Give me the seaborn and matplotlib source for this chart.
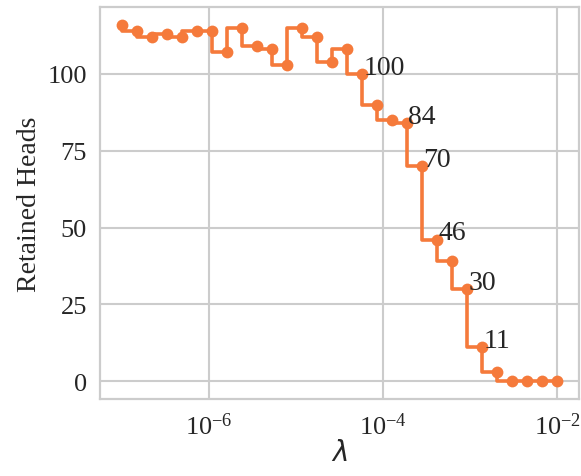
import numpy as np
import pandas as pd
import matplotlib
matplotlib.use("Agg")
import matplotlib.pyplot as plt
import matplotlib.ticker as mticker
import seaborn as sns

# Regularisation strengths swept on a log grid
lambdas = np.logspace(-7, -2, 30)
# Number of attention heads kept at each strength
retained = [116, 114, 112, 113, 112, 114, 114, 107, 115, 109,
            108, 103, 115, 112, 104, 108, 100, 90, 85, 84,
            70, 46, 39, 30, 11, 3, 0, 0, 0, 0]
# Points whose head count is written next to the marker
labelled_idx = [16, 19, 20, 21, 23, 24]

line_color = "#F57A3B"
text_color = "#262626"

sns.set_theme(style="whitegrid")
plt.rcParams["font.family"] = "serif"
plt.rcParams["font.serif"] = ["Liberation Serif", "DejaVu Serif"]
plt.rcParams["mathtext.fontset"] = "stix"
plt.rcParams["axes.edgecolor"] = "#cccccc"
plt.rcParams["axes.linewidth"] = 1.6
plt.rcParams["grid.color"] = "#cccccc"
plt.rcParams["grid.linewidth"] = 1.5

df = pd.DataFrame({"lam": lambdas, "heads": retained})

fig = plt.figure(figsize=(5.81, 4.77), dpi=100)
ax = fig.add_axes([100 / 581, 1 - 400 / 477, 479 / 581, 392 / 477])

sns.lineplot(data=df, x="lam", y="heads", ax=ax, color=line_color,
             drawstyle="steps-pre", marker="o", markersize=8.5,
             markeredgewidth=0, linewidth=2.6)

ax.set_xscale("log")
ax.set_xticks([1e-6, 1e-4, 1e-2])
ax.xaxis.set_minor_locator(mticker.NullLocator())
ax.set_yticks([0, 25, 50, 75, 100])

for i in labelled_idx:
    ax.annotate(str(retained[i]), (lambdas[i], retained[i]),
                xytext=(1, -4), textcoords="offset points",
                ha="left", va="bottom", fontsize=20, color=text_color)

ax.tick_params(axis="both", labelsize=19, colors=text_color)
ax.set_xlabel(r"$\lambda$", fontsize=20, color=text_color, labelpad=1,
              math_fontfamily="dejavusans")
ax.set_ylabel("Retained Heads", fontsize=20, color=text_color)

fig.savefig("out.png", dpi=100)
